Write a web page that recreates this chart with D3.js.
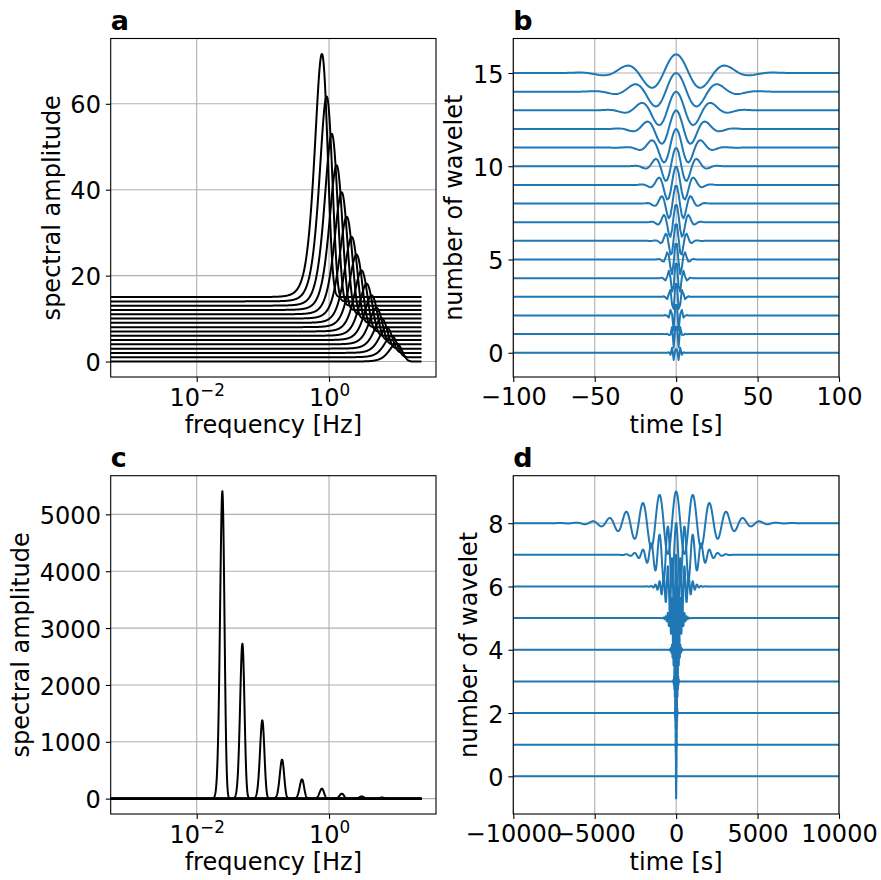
<!DOCTYPE html>
<html>
<head>
<meta charset="utf-8">
<script src="https://cdn.jsdelivr.net/npm/d3@7"></script>
<style>
  body { margin: 0; background: #fff; }
  text { font-family: "DejaVu Sans", sans-serif; fill: #000; }
</style>
</head>
<body>
<svg id="fig" width="881" height="880"></svg>
<script>
// ---- data ----
// panel a: spectra of 16 short wavelets (index = vertical offset)
var peakFreqA = [10.4, 8.8, 7.4, 6.2, 5.2, 4.4, 3.7, 3.1, 2.6, 2.2, 1.85, 1.55, 1.3, 1.1, 0.92, 0.78];
var peakAmpA = [4.2, 5.0, 6.0, 7.1, 8.5, 10.4, 12.1, 14.2, 16.9, 20.0, 23.7, 28.4, 33.7, 40.0, 47.7, 56.6];
var bandwidthA = 0.22;   // sigma_f / f

// panel b: the same wavelets in time
var periodB = [2.3, 2.74, 3.26, 3.9, 4.6, 5.5, 6.5, 7.75, 9.2, 10.96, 13.0, 15.5, 18.4, 21.9, 26.1, 31.0];
var widthB = 0.72;       // sigma_t in periods

// panel c: spectra of 9 long wavelets
var peakFreqC = [6.3, 3.12, 1.56, 0.78, 0.39, 0.195, 0.098, 0.049, 0.0244];
var peakAmpC = [20, 40, 88, 176, 339, 686, 1377, 2725, 5409];
var bandwidthC = 0.076;

// panel d
var periodD = [4, 8, 16, 32, 64, 128, 256, 512, 1025];
var widthD = 2.1;

// axis limits and ticks
var freqLim = [Math.pow(10, -3.3), Math.pow(10, 1.617)];
var freqMax = 25;
var yLimA = [-3.6, 75.2], yTicksA = [0, 20, 40, 60];
var xLimB = [-100, 100], xTicksB = [-100, -50, 0, 50, 100];
var yLimB = [-1.3, 16.85], yTicksB = [0, 5, 10, 15];
var yLimC = [-270, 5680], yTicksC = [0, 1000, 2000, 3000, 4000, 5000];
var xLimD = [-10000, 10000], xTicksD = [-10000, -5000, 0, 5000, 10000];
var yLimD = [-1.19, 9.5], yTicksD = [0, 2, 4, 6, 8];
var logTicks = [-2, 0];

// ---- helpers ----
var svg = d3.select("#fig");
var FS = 24, TICK = 4.9, PAD = 4.9;
var GRID = "#b0b0b0", BLUE = "#1f77b4";
var minus = function(s) { return String(s).replace("-", "\u2212"); };

var freqs = d3.range(0, 1801).map(function(k) {
  return Math.pow(10, -3.6 + k * (Math.log10(freqMax) + 3.6) / 1800);
});

function spectrum(f0, amp, bw, offset) {
  var s = bw * f0;
  return freqs.map(function(f) {
    return [f, offset + amp * Math.exp(-(f - f0) * (f - f0) / (2 * s * s))];
  });
}

function wavelet(period, width, offset, xmax) {
  var sigma = width * period;
  var R = Math.min(Math.ceil(xmax) + 2, Math.ceil(6 * sigma));
  var pts = [[-xmax * 1.5, offset]];
  for (var k = -R; k < R; k++) {
    var t = k + 0.5;
    pts.push([t, offset + Math.cos(2 * Math.PI * t / period) * Math.exp(-t * t / (2 * sigma * sigma))]);
  }
  pts.push([xmax * 1.5, offset]);
  return pts;
}

function drawPanel(p) {
  var x0 = p.box[0], y0 = p.box[1], x1 = p.box[2], y1 = p.box[3];
  var x = p.x.range([x0, x1]), y = p.y.range([y1, y0]);
  var g = svg.append("g");

  svg.append("clipPath").attr("id", "clip-" + p.id)
    .append("rect").attr("x", x0).attr("y", y0).attr("width", x1 - x0).attr("height", y1 - y0);

  // grid
  g.append("g").selectAll("line").data(p.xGrid).join("line")
    .attr("x1", function(d) { return x(d); }).attr("x2", function(d) { return x(d); })
    .attr("y1", y0).attr("y2", y1)
    .attr("stroke", GRID).attr("stroke-width", 1.1);
  g.append("g").selectAll("line").data(p.yTicks).join("line")
    .attr("y1", function(d) { return y(d); }).attr("y2", function(d) { return y(d); })
    .attr("x1", x0).attr("x2", x1)
    .attr("stroke", GRID).attr("stroke-width", 1.1);

  // curves
  var line = d3.line().x(function(d) { return x(d[0]); }).y(function(d) { return y(d[1]); });
  g.append("g").attr("clip-path", "url(#clip-" + p.id + ")")
    .selectAll("path").data(p.series).join("path")
    .attr("d", line)
    .attr("fill", "none").attr("stroke", p.color).attr("stroke-width", 2)
    .attr("stroke-linejoin", "round");

  // y axis
  var ya = g.append("g").attr("transform", "translate(" + x0 + ",0)")
    .call(d3.axisLeft(y).tickValues(p.yTicks).tickSize(TICK).tickPadding(PAD).tickFormat(minus));
  ya.select(".domain").remove();
  ya.selectAll(".tick line").attr("stroke-width", 1.1);
  ya.selectAll(".tick text").attr("font-size", FS).attr("dy", "0.38em").attr("font-family", null);

  // x axis
  var xa = g.append("g").attr("transform", "translate(0," + y1 + ")");
  if (p.log) {
    xa.call(d3.axisBottom(x).tickValues(logTicks.map(function(e) { return Math.pow(10, e); }))
      .tickSize(TICK).tickPadding(PAD).tickFormat(""));
    xa.selectAll(".tick text").remove();
    xa.selectAll(".tick").each(function(d) {
      var t = d3.select(this).append("text").attr("y", 29).attr("text-anchor", "middle")
        .attr("font-size", FS);
      t.append("tspan").text("10");
      t.append("tspan").attr("font-size", FS * 0.7).attr("dy", -10)
        .text(minus(Math.round(Math.log10(d))));
    });
  } else {
    xa.call(d3.axisBottom(x).tickValues(p.xTicks).tickSize(TICK).tickPadding(PAD).tickFormat(minus));
    xa.selectAll(".tick text").attr("font-size", FS).attr("dy", "0.76em").attr("font-family", null);
  }
  xa.select(".domain").remove();
  xa.selectAll(".tick line").attr("stroke-width", 1.1);

  // spines
  g.append("rect").attr("x", x0).attr("y", y0).attr("width", x1 - x0).attr("height", y1 - y0)
    .attr("fill", "none").attr("stroke", "#000").attr("stroke-width", 1.1);

  // labels
  var minX = x0;
  ya.selectAll(".tick text").each(function() {
    var w = this.getComputedTextLength();
    minX = Math.min(minX, x0 - TICK - PAD - w);
  });
  g.append("text").attr("transform", "translate(" + (minX - 5.6 - 5.2) + "," + ((y0 + y1) / 2) + ") rotate(-90)")
    .attr("text-anchor", "middle").attr("font-size", FS).text(p.ylabel);
  g.append("text").attr("x", (x0 + x1) / 2).attr("y", y1 + 56)
    .attr("text-anchor", "middle").attr("font-size", FS).text(p.xlabel);
  g.append("text").attr("x", x0).attr("y", y0 - 8.3)
    .attr("font-size", 27).attr("font-weight", "bold").text(p.id);
}

// ---- panels ----
drawPanel({
  id: "a", box: [110.7, 38.5, 436, 377], log: true,
  x: d3.scaleLog().domain(freqLim), y: d3.scaleLinear().domain(yLimA),
  xGrid: logTicks.map(function(e) { return Math.pow(10, e); }), yTicks: yTicksA,
  series: peakFreqA.map(function(f0, i) { return spectrum(f0, peakAmpA[i], bandwidthA, i); }),
  color: "#000", xlabel: "frequency [Hz]", ylabel: "spectral amplitude"
});
drawPanel({
  id: "b", box: [513.3, 38.5, 839, 377], log: false,
  x: d3.scaleLinear().domain(xLimB), y: d3.scaleLinear().domain(yLimB),
  xGrid: xTicksB, xTicks: xTicksB, yTicks: yTicksB,
  series: periodB.map(function(T, i) { return wavelet(T, widthB, i, 100); }),
  color: BLUE, xlabel: "time [s]", ylabel: "number of wavelet"
});
drawPanel({
  id: "c", box: [110.7, 475.7, 436, 814], log: true,
  x: d3.scaleLog().domain(freqLim), y: d3.scaleLinear().domain(yLimC),
  xGrid: logTicks.map(function(e) { return Math.pow(10, e); }), yTicks: yTicksC,
  series: peakFreqC.map(function(f0, i) { return spectrum(f0, peakAmpC[i], bandwidthC, 0); }),
  color: "#000", xlabel: "frequency [Hz]", ylabel: "spectral amplitude"
});
drawPanel({
  id: "d", box: [513.3, 475.7, 839, 814], log: false,
  x: d3.scaleLinear().domain(xLimD), y: d3.scaleLinear().domain(yLimD),
  xGrid: xTicksD, xTicks: xTicksD, yTicks: yTicksD,
  series: periodD.map(function(T, i) { return wavelet(T, widthD, i, 10000); }),
  color: BLUE, xlabel: "time [s]", ylabel: "number of wavelet"
});
</script>
</body>
</html>
